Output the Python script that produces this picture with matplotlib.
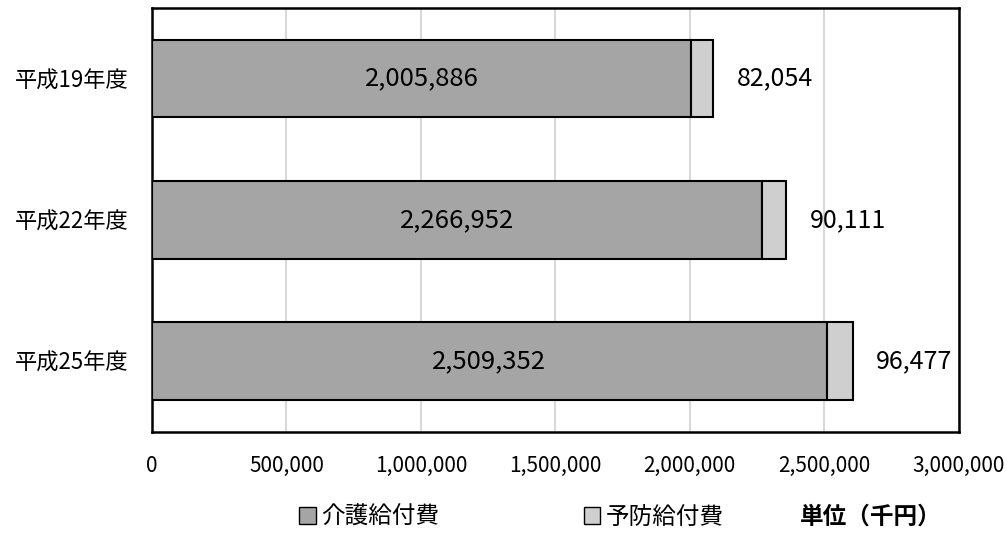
import matplotlib
matplotlib.use("Agg")
import matplotlib.pyplot as plt
from matplotlib.patches import Patch

plt.rcParams['font.family'] = ['Noto Sans CJK JP', 'DejaVu Sans']

years = ['平成19年度', '平成22年度', '平成25年度']
kaigo = [2005886, 2266952, 2509352]   # 介護給付費
yobou = [82054, 90111, 96477]         # 予防給付費
xticks = [0, 500000, 1000000, 1500000, 2000000, 2500000, 3000000]

dark = '#a5a5a5'
light = '#cfcfcf'

fig = plt.figure(figsize=(10.07, 5.33), dpi=100)
ax = fig.add_axes([0.151, 0.19, 0.801, 0.795])

pos = range(len(years))
ax.barh(pos, kaigo, height=0.55, color=dark, edgecolor='black', linewidth=1.5, zorder=3)
ax.barh(pos, yobou, left=kaigo, height=0.55, color=light, edgecolor='black', linewidth=1.5, zorder=3)

for i in pos:
    ax.text(kaigo[i] / 2, i, f'{kaigo[i]:,}', ha='center', va='center', fontsize=18.5, zorder=4)
    ax.annotate(f'{yobou[i]:,}', xy=(kaigo[i] + yobou[i], i), xytext=(17, 0),
                textcoords='offset points', ha='left', va='center', fontsize=18)

ax.set_xlim(0, 3000000)
ax.set_ylim(2.5, -0.5)
ax.set_xticks(xticks)
ax.set_xticklabels([f'{v:,}' for v in xticks], fontsize=15)
ax.set_yticks(list(pos))
ax.set_yticklabels(years, fontsize=16)
ax.tick_params(length=0)
ax.tick_params(axis='x', pad=17)
ax.tick_params(axis='y', pad=17)
ax.grid(axis='x', color='#d9d9d9', linewidth=1.5, zorder=0)
for s in ax.spines.values():
    s.set_linewidth(1.8)
    s.set_color('black')

handles = [Patch(facecolor=dark, edgecolor='black', label='介護給付費'),
           Patch(facecolor=light, edgecolor='black', label='予防給付費')]
fig.legend(handles=handles, loc='center', bbox_to_anchor=(0.508, 0.03), ncol=2,
           frameon=False, fontsize=17, handlelength=0.7, handleheight=0.7,
           handletextpad=0.25, columnspacing=6.1)
fig.text(0.794, 0.03, '単位（千円）', ha='left', va='center', fontsize=17, fontweight='bold')

fig.savefig('out.png', dpi=100)
